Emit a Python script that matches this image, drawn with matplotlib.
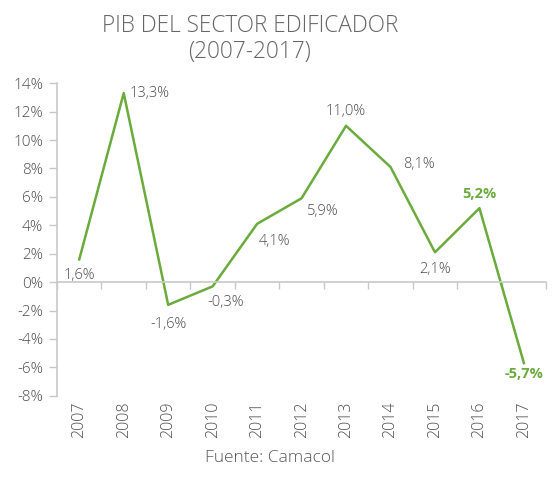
import matplotlib
matplotlib.use("Agg")
import matplotlib.pyplot as plt

years = ["2007", "2008", "2009", "2010", "2011", "2012", "2013", "2014", "2015", "2016", "2017"]
values = [1.6, 13.3, -1.6, -0.3, 4.1, 5.9, 11.0, 8.1, 2.1, 5.2, -5.7]
labels = ["1,6%", "13,3%", "-1,6%", "-0,3%", "4,1%", "5,9%", "11,0%", "8,1%", "2,1%", "5,2%", "-5,7%"]
yticks = [-8, -6, -4, -2, 0, 2, 4, 6, 8, 10, 12, 14]
title = "PIB DEL SECTOR EDIFICADOR\n(2007-2017)"
source = "Fuente: Camacol"

plt.rcParams['font.family'] = ['Open Sans', 'DejaVu Sans']
plt.rcParams['font.weight'] = 300
GREEN = "#6aab3c"
GRAY = "#4d4d4d"
AX = "#c8c8c8"

fig = plt.figure(figsize=(5.59, 4.78), dpi=100)
ax = fig.add_axes([0.102, 0.172, 0.875, 0.654])

x = list(range(len(years)))
ax.plot(x, values, color=GREEN, lw=1.8)

ax.set_ylim(-8, 14)
ax.set_xlim(-0.5, len(years) - 0.5)
ax.set_yticks(yticks)
ax.set_yticklabels([f"{v}%" for v in yticks])
ax.tick_params(axis='y', colors=AX, labelcolor=GRAY, labelsize=11, length=6, width=1, pad=4)

for s in ['top', 'right']:
    ax.spines[s].set_visible(False)
ax.spines['left'].set_color(AX)
ax.spines['left'].set_linewidth(1.2)
ax.spines['bottom'].set_position(('data', 0))
ax.spines['bottom'].set_color(AX)
ax.spines['bottom'].set_linewidth(1.2)
ax.set_xticks([i - 0.5 for i in range(len(years) + 1)])
ax.set_xticklabels([])
ax.tick_params(axis='x', colors=AX, length=5, width=1)

sec = ax.secondary_xaxis('bottom')
sec.set_xticks(x)
sec.set_xticklabels(years, rotation=90)
sec.tick_params(length=0, labelcolor=GRAY, labelsize=11.5, pad=4)
sec.spines['bottom'].set_visible(False)

# label placement offsets (points)
offs = [(0, -6, 'center', 'top'), (4, 0, 'left', 'center'), (0, -9, 'center', 'top'),
        (9, -6, 'center', 'top'), (1, -7, 'left', 'top'), (4, -4, 'left', 'top'),
        (0, 5, 'center', 'bottom'), (9, 2, 'left', 'center'), (0, -7, 'center', 'top'),
        (0, 5, 'center', 'bottom'), (0, -3, 'center', 'top')]
for i, (v, lab) in enumerate(zip(values, labels)):
    dx, dy, ha, va = offs[i]
    hl = i >= len(values) - 2
    ax.annotate(lab, (i, v), xytext=(dx, dy), textcoords='offset points', ha=ha, va=va,
                fontsize=10.5, color=GREEN if hl else GRAY,
                fontweight='bold' if hl else 300)

fig.text(0.447, 0.970, title, ha='center', va='top', fontsize=16.3, color="#666666",
         linespacing=1.1)
fig.text(0.483, 0.042, source, ha='center', va='center', fontsize=12.5, color="#5a5a5a")

fig.savefig("out.png", dpi=100)
